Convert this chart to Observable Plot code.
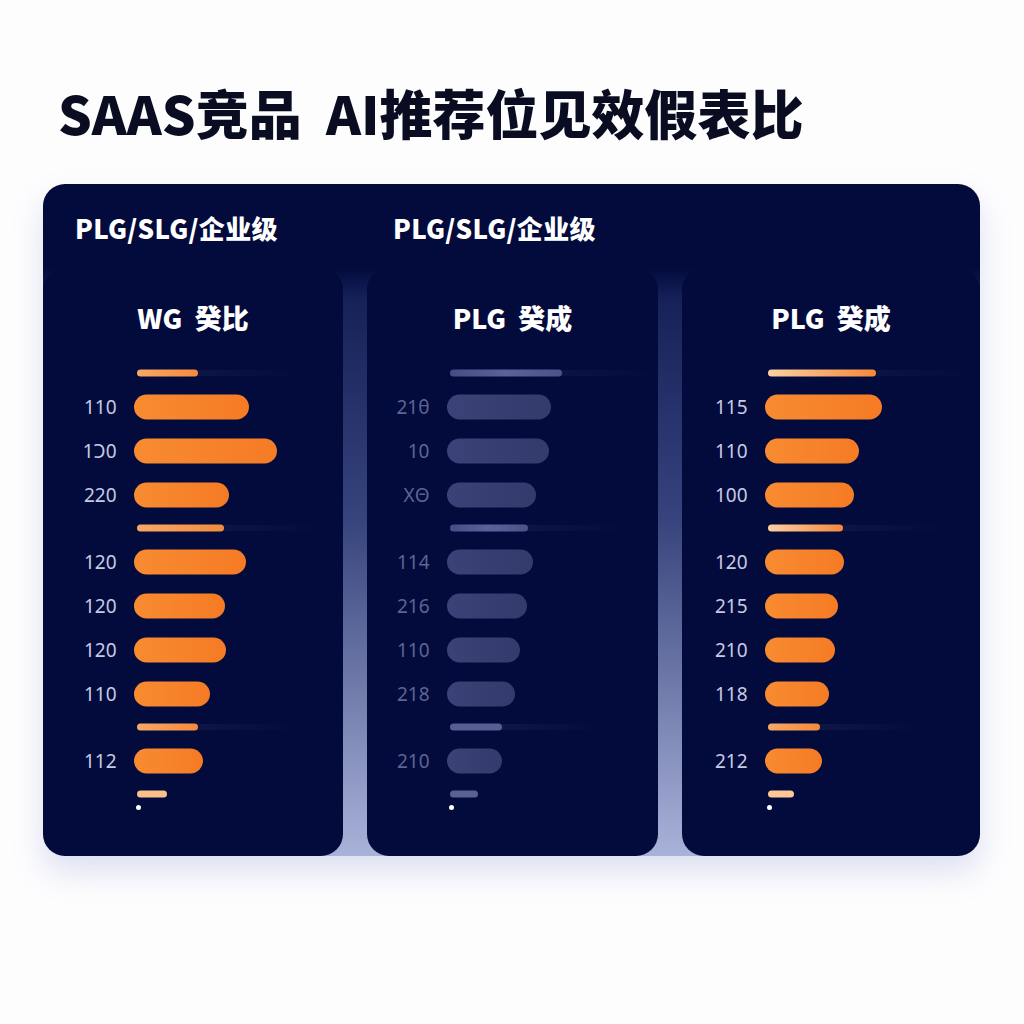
<!DOCTYPE html>
<html>
<head>
<meta charset="utf-8">
<script src="https://cdn.jsdelivr.net/npm/d3@7"></script>
<script src="https://cdn.jsdelivr.net/npm/@observablehq/plot@0.6"></script>
<style>
  html, body { margin: 0; padding: 0; background: #fdfdfe; }
  body { width: 1024px; height: 1024px; position: relative; overflow: hidden;
         font-family: "Noto Sans CJK SC", "Noto Sans", sans-serif; }
  #title { position: absolute; left: 58px; top: 80px; line-height: 64px; font-size: 53px;
           font-weight: 900; color: #0a0d22; letter-spacing: 0px; white-space: pre; }
  #outer { position: absolute; left: 43px; top: 184px; width: 937px; height: 672px;
           border-radius: 22px;
           background: linear-gradient(to bottom, #030b3c 0%, #030b3c 12.5%, #16215a 17%, #37437c 50%, #a9b3d9 100%);
           box-shadow: 0 16px 30px rgba(140,150,210,0.28); }
  .group-head { position: absolute; top: 27px; line-height: 34px; font-size: 26px; font-weight: 900;
                color: #ffffff; letter-spacing: 0.3px; }
  .card { position: absolute; top: 84px; height: 588px; background: #030b3c; border-radius: 22px; }
  .card-head { position: absolute; left: 0; right: 0; top: 33px; line-height: 34px; text-align: center;
               font-size: 27px; font-weight: 900; color: #ffffff; white-space: pre; }
  .card-plot { position: absolute; left: 0; top: 80px; }
</style>
</head>
<body>
<svg width="0" height="0" style="position:absolute">
  <defs>
    <linearGradient id="orangeBar" x1="0" x2="1" y1="0" y2="0">
      <stop offset="0" stop-color="#f88b31"/><stop offset="1" stop-color="#f57b24"/>
    </linearGradient>
    <linearGradient id="slateBar" x1="0" x2="1" y1="0" y2="0">
      <stop offset="0" stop-color="#3a4277"/><stop offset="1" stop-color="#333a6c"/>
    </linearGradient>
    <linearGradient id="orangeThin" x1="0" x2="1" y1="0" y2="0">
      <stop offset="0" stop-color="#f7a866"/><stop offset="1" stop-color="#f48a3c"/>
    </linearGradient>
    <linearGradient id="peachThin" x1="0" x2="1" y1="0" y2="0">
      <stop offset="0" stop-color="#fbd0a4"/><stop offset="1" stop-color="#f5883a"/>
    </linearGradient>
    <linearGradient id="slateThin" x1="0" x2="1" y1="0" y2="0">
      <stop offset="0" stop-color="#454d84"/><stop offset="0.5" stop-color="#5a6399"/><stop offset="1" stop-color="#4a5288"/>
    </linearGradient>
    <linearGradient id="track" x1="0" x2="1" y1="0" y2="0">
      <stop offset="0" stop-color="#ffffff" stop-opacity="0.07"/><stop offset="1" stop-color="#ffffff" stop-opacity="0"/>
    </linearGradient>
  </defs>
</svg>

<div id="title"></div>
<div id="outer"></div>

<script>
// ---------------- data ----------------
const titleText = "SAAS竞品  AI推荐位见效假表比";
const groupHeads = ["PLG/SLG/企业级", "PLG/SLG/企业级"];
const cardTitles = ["WG  癸比", "PLG  癸成", "PLG  癸成"];

// bars are grouped between thin separator bars
const groupSizes = [3, 4, 1];

const card1Labels = ["110", "1Ɔ0", "220", "120", "120", "120", "110", "112"];
const card1Bars   = [115, 143, 95, 112, 91, 92, 76, 69];
const card1Thin   = [64, 90, 64, 33];

const card2Labels = ["21θ", "10", "ΧΘ", "114", "216", "110", "218", "210"];
const card2Bars   = [104, 102, 89, 86, 80, 73, 68, 55];
const card2Thin   = [115, 81, 55, 31];

const card3Labels = ["115", "110", "100", "120", "215", "210", "118", "212"];
const card3Bars   = [117, 94, 89, 79, 73, 70, 64, 57];
const card3Thin   = [111, 78, 55, 29];

// ---------------- layout / style ----------------
const cards = [
  {left: 0,   width: 300, barStart: 91, labels: card1Labels, bars: card1Bars, thin: card1Thin,
   barFill: "url(#orangeBar)", thinFill: ["url(#orangeThin)", "url(#orangeThin)", "url(#orangeThin)", "#f9c08a"],
   labelFill: "#c6cae3"},
  {left: 324, width: 291, barStart: 80, labels: card2Labels, bars: card2Bars, thin: card2Thin,
   barFill: "url(#slateBar)", thinFill: ["url(#slateThin)", "url(#slateThin)", "#565e93", "#5a6195"],
   labelFill: "#5b6497"},
  {left: 639, width: 298, barStart: 83, labels: card3Labels, bars: card3Bars, thin: card3Thin,
   barFill: "url(#orangeBar)", thinFill: ["url(#peachThin)", "url(#peachThin)", "url(#orangeThin)", "#fbc896"],
   labelFill: "#c6cae3"}
];
const plotHeight = 508;
const FIRST = 25, AFTER_THIN = 34, BAR_STEP = 44, BEFORE_THIN = 33, TO_DOT = 13;
const BAR_H = 25, THIN_H = 7;

document.getElementById("title").textContent = titleText;
const outer = document.getElementById("outer");
groupHeads.forEach((t, i) => {
  const d = document.createElement("div");
  d.className = "group-head";
  d.style.left = (i === 0 ? 32 : 350) + "px";
  d.textContent = t;
  outer.appendChild(d);
});

function buildRows(card) {
  const bars = [], thins = [], dots = [];
  let y = FIRST, bi = 0;
  groupSizes.forEach((size, g) => {
    thins.push({y, len: card.thin[g], fill: card.thinFill[g]});
    y += AFTER_THIN;
    for (let k = 0; k < size; k++) {
      bars.push({y, len: card.bars[bi], label: card.labels[bi]});
      bi++;
      y += (k === size - 1) ? BEFORE_THIN : BAR_STEP;
    }
  });
  const last = groupSizes.length;
  thins.push({y, len: card.thin[last], fill: card.thinFill[last]});
  y += TO_DOT;
  dots.push({y});
  return {bars, thins, dots};
}

cards.forEach((card, ci) => {
  const el = document.createElement("div");
  el.className = "card";
  el.style.left = card.left + "px";
  el.style.width = card.width + "px";
  const head = document.createElement("div");
  head.className = "card-head";
  head.textContent = cardTitles[ci];
  el.appendChild(head);

  const {bars, thins, dots} = buildRows(card);
  const plot = Plot.plot({
    width: card.width,
    height: plotHeight,
    margin: 0,
    style: {background: "transparent", fontFamily: "'Noto Sans', 'DejaVu Sans', sans-serif", overflow: "visible"},
    x: {domain: [0, 200], range: [card.barStart, card.barStart + 200], axis: null},
    y: {domain: [0, plotHeight], range: [0, plotHeight], axis: null},
    marks: [
      Plot.rect(thins.slice(0, 3), {x1: 0, x2: d => d.len + 100, y1: d => d.y - 3, y2: d => d.y + 3,
        insetLeft: 3, fill: "url(#track)", rx: 3}),
      Plot.rect(thins, {x1: 0, x2: "len", y1: d => d.y - THIN_H / 2, y2: d => d.y + THIN_H / 2,
        insetLeft: 3, fill: d => d.fill, rx: THIN_H / 2}),
      Plot.rect(bars, {x1: 0, x2: "len", y1: d => d.y - BAR_H / 2, y2: d => d.y + BAR_H / 2,
        fill: card.barFill, rx: BAR_H / 2}),
      Plot.text(bars, {x: 0, y: "y", text: "label", dx: -18, textAnchor: "end",
        fontSize: 19, fill: card.labelFill}),
      Plot.dot(dots, {x: 0, y: "y", dx: 4, r: 2.5, fill: "#ffffff"})
    ]
  });
  plot.classList.add("card-plot");
  el.appendChild(plot);
  outer.appendChild(el);
});
</script>
</body>
</html>
